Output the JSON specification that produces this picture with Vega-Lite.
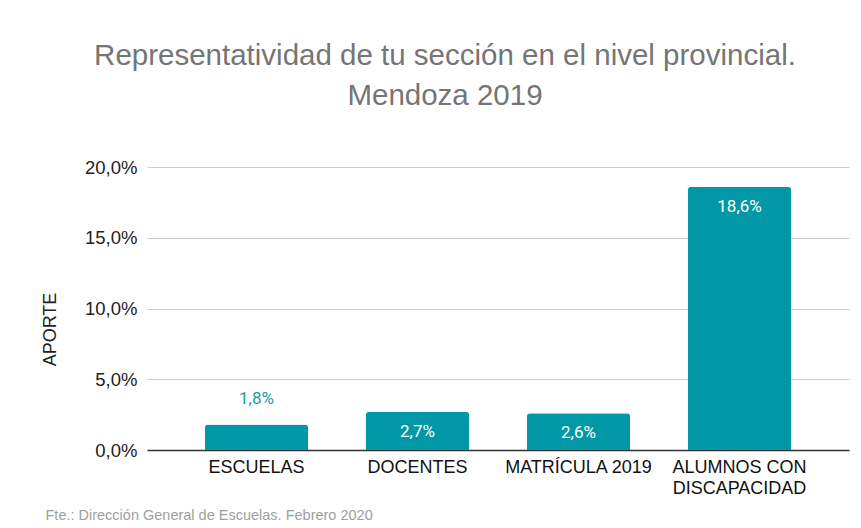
{
  "$schema": "https://vega.github.io/schema/vega-lite/v6.json",
  "width": 702,
  "height": 283,
  "autosize": {"type": "none"},
  "padding": {"left": 147, "top": 167, "right": 12, "bottom": 78},
  "background": "white",
  "config": {
    "locale": {"number": {"decimal": ",", "thousands": ".", "grouping": [3], "currency": ["$", ""]}},
    "view": {"stroke": null}
  },
  "title": {
    "text": ["Representatividad de tu sección en el nivel provincial.", "Mendoza 2019"],
    "font": "Liberation Sans",
    "fontSize": 29.5,
    "fontWeight": "normal",
    "color": "#757575",
    "lineHeight": 40,
    "anchor": "middle",
    "dx": -53,
    "offset": 47
  },
  "data": {
    "values": [
      {"categoria": "ESCUELAS", "aporte": 0.018},
      {"categoria": "DOCENTES", "aporte": 0.027},
      {"categoria": "MATRÍCULA 2019", "aporte": 0.026},
      {"categoria": "ALUMNOS CON DISCAPACIDAD", "aporte": 0.186}
    ]
  },
  "encoding": {
    "x": {
      "field": "categoria",
      "type": "nominal",
      "sort": null,
      "scale": {"paddingInner": 0.36, "paddingOuter": 0.36},
      "axis": {
        "title": "Fte.: Dirección General de Escuelas. Febrero 2020",
        "titleFont": "Liberation Sans",
        "titleFontSize": 14.5,
        "titleFontWeight": "normal",
        "titleColor": "#9e9e9e",
        "titleAnchor": "start",
        "titleAlign": "left",
        "titleBaseline": "middle",
        "titleX": -102,
        "titleY": 65,
        "labelAngle": 0,
        "labelFont": "Liberation Sans",
        "labelFontSize": 18,
        "labelColor": "#111111",
        "labelPadding": 8,
        "labelLineHeight": 21,
        "labelExpr": "datum.label == 'ALUMNOS CON DISCAPACIDAD' ? ['ALUMNOS CON', 'DISCAPACIDAD'] : datum.label",
        "ticks": false,
        "domainColor": "#333333",
        "domainWidth": 1.5
      }
    },
    "y": {
      "field": "aporte",
      "type": "quantitative",
      "scale": {"domain": [0, 0.2]},
      "axis": {
        "title": "APORTE",
        "titleFont": "Liberation Sans",
        "titleFontSize": 18,
        "titleFontWeight": "normal",
        "titleColor": "#222222",
        "titlePadding": 25,
        "titleY": 162,
        "format": ".1%",
        "values": [0, 0.05, 0.1, 0.15, 0.2],
        "labelOverlap": false,
        "labelFont": "Liberation Sans",
        "labelFontSize": 18.5,
        "labelColor": "#222222",
        "labelPadding": 10,
        "ticks": false,
        "domain": false,
        "gridColor": "#cccccc"
      }
    }
  },
  "layer": [
    {
      "mark": {"type": "bar", "color": "#0097a7", "cornerRadiusTopLeft": 3, "cornerRadiusTopRight": 3}
    },
    {
      "transform": [{"filter": "datum.aporte < 0.02"}],
      "mark": {"type": "text", "font": "Roboto", "fontSize": 17, "color": "#1b9aaa", "baseline": "middle", "dy": -26},
      "encoding": {"text": {"field": "aporte", "type": "quantitative", "format": ".1%"}}
    },
    {
      "transform": [{"filter": "datum.aporte >= 0.02"}],
      "mark": {"type": "text", "font": "Roboto", "fontSize": 17, "color": "white", "baseline": "middle", "dy": 20},
      "encoding": {"text": {"field": "aporte", "type": "quantitative", "format": ".1%"}}
    }
  ]
}
